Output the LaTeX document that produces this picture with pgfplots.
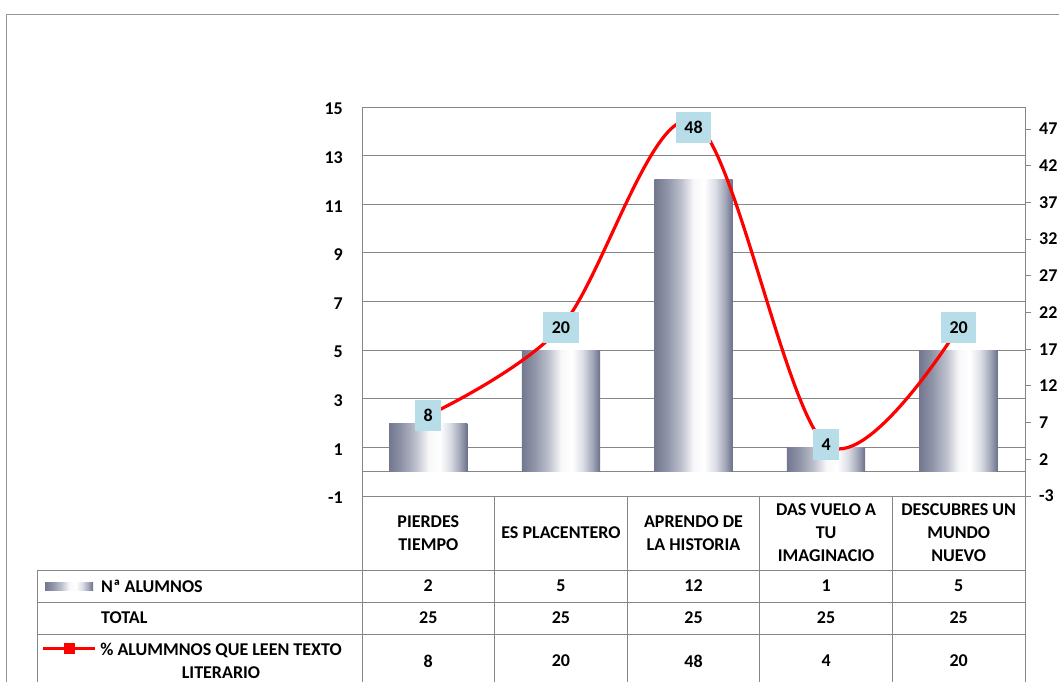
\documentclass[border=0pt]{standalone}
\usepackage{pgfplots}
\pgfplotsset{compat=1.18}
\usepackage{fontspec}
\setmainfont{Carlito}[BoldFont={Carlito Bold}]
\definecolor{gridgray}{RGB}{134,134,134}
\definecolor{bordergray}{RGB}{150,150,150}
\definecolor{labelblue}{RGB}{183,221,232}
\definecolor{linered}{RGB}{255,0,0}
\pgfdeclarehorizontalshading{cyl}{100bp}{%
  rgb(0bp)=(0.45,0.47,0.56);
  rgb(25bp)=(0.45,0.47,0.56);
  rgb(33bp)=(0.56,0.58,0.66);
  rgb(42bp)=(0.74,0.75,0.80);
  rgb(50bp)=(0.97,0.97,0.98);
  rgb(57bp)=(1,1,1);
  rgb(64bp)=(0.86,0.87,0.90);
  rgb(70bp)=(0.64,0.66,0.73);
  rgb(75bp)=(0.42,0.44,0.54);
  rgb(100bp)=(0.42,0.44,0.54)}
\newcommand{\lbl}{\bfseries\fontsize{18bp}{23bp}\selectfont}
\pgfplotsset{cylbar/.style={ybar, bar width=0.59, bar shift=0pt, shade, shading=cyl, draw=none}}
\begin{document}
\begin{tikzpicture}[x=1bp,y=1bp]
\begin{axis}[
  at={(362bp,186bp)}, anchor=south west,
  width=663bp, height=389bp, scale only axis,
  xmin=-0.5, xmax=4.5, ymin=-1, ymax=15,
  xtick=\empty,
  ytick={-1,1,3,5,7,9,11,13,15},
  yticklabels={-1,1,3,5,7,9,11,13,15},
  ymajorgrids, grid style={gridgray, line width=0.8bp},
  axis line style={gridgray, line width=0.8bp},
  major tick length=0pt,
  yticklabel style={font=\lbl, inner sep=0pt, xshift=-19bp, yshift=-2bp},
  extra y ticks={0}, extra y tick labels={},
  extra y tick style={grid=major},
  clip=false,
]
\addplot[cylbar] coordinates {(0,2)};
\addplot[cylbar] coordinates {(1,5)};
\addplot[cylbar] coordinates {(2,12)};
\addplot[cylbar] coordinates {(3,1)};
\addplot[cylbar] coordinates {(4,5)};
\end{axis}
\begin{axis}[
  at={(362bp,186bp)}, anchor=south west,
  width=663bp, height=389bp, scale only axis,
  xmin=-0.5, xmax=4.5, ymin=-3, ymax=50,
  axis x line=none, axis y line*=right,
  ytick={-3,2,7,12,17,22,27,32,37,42,47},
  yticklabels={-3,2,7,12,17,22,27,32,37,42,47},
  tick align=outside, major tick length=6bp,
  y axis line style={gridgray, line width=0.8bp},
  tick style={gridgray, line width=0.8bp},
  yticklabel style={font=\lbl, inner sep=0pt, xshift=8bp},
  clip=false,
]
\addplot[linered, line width=3.2bp, smooth, tension=0.55, mark=none,
  visualization depends on={rawy \as \ry},
  point meta=explicit symbolic, nodes near coords, nodes near coords align={center},
  every node near coord/.append style={fill=labelblue, font=\lbl, text=black,
    inner xsep=8.5bp, inner ysep=0pt, minimum height=31bp, anchor=center,
    yshift={-6*(\ry>40)}}]
  coordinates {(0,8) [8] (1,20) [20] (2,48) [48] (3,4) [4] (4,20) [20]};
\end{axis}
% outer border
\draw[bordergray, line width=1bp] (6,-5) -- (6,667) -- (1070,667);
% data table
\begin{scope}[gridgray, line width=0.8bp]
\draw (37,112) -- (1025,112);
\draw (37,80) -- (1025,80);
\draw (37,48) -- (1025,48);
\draw (37,112) -- (37,-5);
\foreach \x in {362,494.6,627.2,759.8,892.4,1025} \draw (\x,186) -- (\x,-5);
\end{scope}
\node[font=\lbl, align=center] at (428.3,149) {PIERDES\\TIEMPO};
\node[font=\lbl, align=center] at (560.9,149) {ES PLACENTERO};
\node[font=\lbl, align=center] at (693.5,149) {APRENDO DE\\LA HISTORIA};
\node[font=\lbl, align=center] at (826.1,149) {DAS VUELO A\\TU\\IMAGINACIO};
\node[font=\lbl, align=center] at (958.7,149) {DESCUBRES UN\\MUNDO\\NUEVO};
\foreach \x/\a/\b/\c in {428.3/2/25/8, 560.9/5/25/20, 693.5/12/25/48, 826.1/1/25/4, 958.7/5/25/20} {
  \node[font=\lbl] at (\x,96) {\a};
  \node[font=\lbl] at (\x,64) {\b};
  \node[font=\lbl] at (\x,21) {\c};
}
% legend keys and row labels
\shade[shading=cyl] (45,91) rectangle (93,99);
\draw[linered, line width=3bp] (43,33) -- (95,33);
\fill[linered] (63.5,27.5) rectangle (74.5,38.5);
\node[font=\lbl, anchor=west, inner sep=0pt] at (101,96) {Nª ALUMNOS};
\node[font=\lbl, anchor=west, inner sep=0pt] at (101,64) {TOTAL};
\node[font=\lbl, align=center] at (221,21) {\% ALUMMNOS QUE LEEN TEXTO\\LITERARIO};
\pgfresetboundingbox
\path[use as bounding box] (0,0) rectangle (1059,682);
\end{tikzpicture}
\end{document}
